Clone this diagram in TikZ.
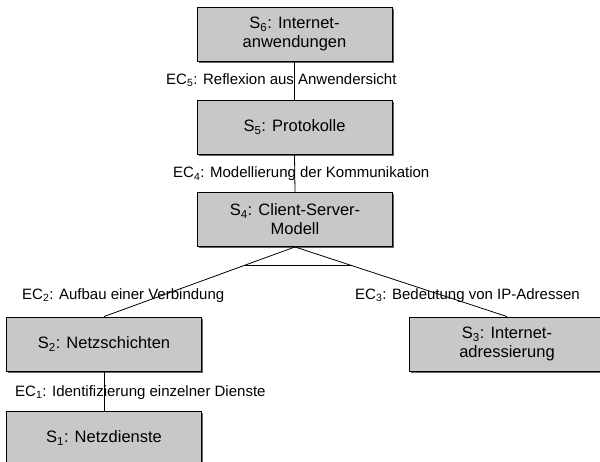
\documentclass[tikz,border=0pt]{standalone}
\usepackage{fontspec}
\setmainfont{Liberation Sans}
\usetikzlibrary{calc,shadows}
\definecolor{boxfill}{RGB}{200,200,200}
\definecolor{shadowgray}{RGB}{100,100,100}
\tikzset{
  stage/.style={rectangle, draw=black, line width=0.9pt, fill=boxfill,
    minimum width=195pt, minimum height=54pt, inner sep=0pt, align=center,
    font=\fontsize{16.5}{19}\selectfont,
    drop shadow={shadow xshift=1.6pt, shadow yshift=-1.6pt, fill=shadowgray, opacity=1}},
  eclabel/.style={anchor=base west, inner sep=0pt, font=\fontsize{15}{17}\selectfont},
  link/.style={draw=black, line width=0.8pt}
}
\begin{document}
\begin{tikzpicture}[x=1pt,y=-1pt]
\clip (0,0) rectangle (600,462);
\fill[white] (0,0) rectangle (600,462);
\node[stage] (s6) at (294.5,34) {S\textsubscript{6}: Internet-\\anwendungen};
\node[stage] (s5) at (294.5,127) {S\textsubscript{5}: Protokolle};
\node[stage] (s4) at (295,219.5) {S\textsubscript{4}: Client-Server-\\Modell};
\node[stage] (s2) at (104,344) {S\textsubscript{2}: Netzschichten};
\node[stage] (s3) at (507,344) {S\textsubscript{3}: Internet-\\adressierung};
\node[stage] (s1) at (104,438) {S\textsubscript{1}: Netzdienste};
\draw[link] (s6.south) -- (s5.north);
\draw[link] (s5.south) -- (s4.north);
\draw[link] (s4.south) -- (s2.north);
\draw[link] (s4.south) -- (s3.north);
\coordinate (bl) at ($(s4.south)!0.268!(s2.north)$);
\coordinate (br) at ($(s4.south)!0.268!(s3.north)$);
\draw[link] (bl) -- (br);
\draw[link] (s2.south) -- (s1.north);
\node[eclabel] (ec5) at (166,84.4) {EC\textsubscript{5}: Reflexion aus Anwendersicht};
\node[eclabel] (ec4) at (173,178) {EC\textsubscript{4}: Modellierung der Kommunikation};
\node[eclabel] (ec2) at (22,299.5) {EC\textsubscript{2}: Aufbau einer Verbindung};
\node[eclabel] (ec3) at (355,299.5) {EC\textsubscript{3}: Bedeutung von IP-Adressen};
\node[eclabel] (ec1) at (15,396) {EC\textsubscript{1}: Identifizierung einzelner Dienste};
\end{tikzpicture}
\end{document}
